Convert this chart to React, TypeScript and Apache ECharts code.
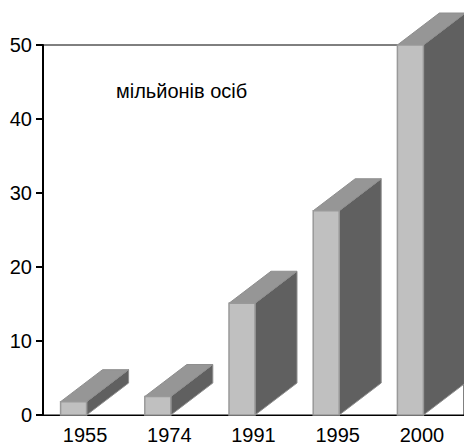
import React, { useEffect, useRef } from "react";
import * as echarts from "echarts";

const categories = ["1955", "1974", "1991", "1995", "2000"];
const values = [1.8, 2.5, 15.1, 27.6, 50];
const yTicks = { min: 0, max: 50, interval: 10 };
const tickValues = [0, 10, 20, 30, 40, 50];
const unitLabel = "мільйонів осіб";

const FONT = "'Liberation Sans', Arial, sans-serif";

export default function App() {
  const ref = useRef<HTMLDivElement>(null);
  useEffect(() => {
    if (!ref.current) return;
    const chart = echarts.init(ref.current, null, { renderer: "svg" });
    const dx = 42;
    const dy = 32;
    chart.setOption({
      animation: false,
      backgroundColor: "#ffffff",
      grid: {
        left: 43,
        top: 45,
        width: 425,
        height: 370,
        show: true,
        borderColor: "#000",
        borderWidth: 1,
        backgroundColor: "transparent",
      },
      xAxis: {
        type: "category",
        data: categories,
        axisLine: { lineStyle: { color: "#000", width: 1 } },
        axisTick: { show: false },
        axisLabel: { color: "#000", fontSize: 20, fontFamily: FONT, margin: 10 },
      },
      yAxis: {
        type: "value",
        min: yTicks.min,
        max: yTicks.max,
        interval: yTicks.interval,
        splitLine: { show: false },
        axisLine: { show: true, lineStyle: { color: "#000", width: 2 } },
        axisTick: { show: true, inside: false, length: 7, lineStyle: { color: "#000", width: 2 } },
        axisLabel: { color: "#000", fontSize: 20, fontFamily: FONT, margin: 11 },
      },
      graphic: [
        {
          type: "text",
          left: 116,
          top: 81,
          style: { text: unitLabel, fontSize: 20, fontFamily: FONT, fill: "#000" },
        },
      ],
      series: [
        {
          type: "custom",
          clip: false,
          silent: true,
          data: tickValues.map((t) => [0, t]),
          renderItem: (params: any, api: any) => {
            const p = api.coord([0, api.value(1)]);
            const x = params.coordSys.x;
            return {
              type: "line",
              shape: { x1: x - 6, y1: p[1], x2: x, y2: p[1] },
              style: { stroke: "#000", lineWidth: 2 },
            };
          },
        },
        {
          type: "custom",
          clip: false,
          data: values.map((v, i) => [i, v]),
          renderItem: (params: any, api: any) => {
            const i = api.value(0);
            const v = api.value(1);
            const base = api.coord([i, 0]);
            const top = api.coord([i, v]);
            const x0 = base[0] - 24.5;
            const x1 = base[0] + 1.5;
            const yb = base[1];
            const yt = top[1];
            const stroke = "#8e8e8e";
            return {
              type: "group",
              children: [
                {
                  type: "polygon",
                  shape: {
                    points: [
                      [x1, yt],
                      [x1 + dx, yt - dy],
                      [x1 + dx, yb - dy],
                      [x1, yb],
                    ],
                  },
                  style: { fill: "#606060", stroke, lineWidth: 1 },
                },
                {
                  type: "polygon",
                  shape: {
                    points: [
                      [x0, yt],
                      [x0 + dx, yt - dy],
                      [x1 + dx, yt - dy],
                      [x1, yt],
                    ],
                  },
                  style: { fill: "#969696", stroke, lineWidth: 1 },
                },
                {
                  type: "rect",
                  shape: { x: x0, y: yt, width: x1 - x0, height: yb - yt },
                  style: { fill: "#c0c0c0", stroke: "#999999", lineWidth: 1.5 },
                },
              ],
            };
          },
        },
      ],
    });
    return () => chart.dispose();
  }, []);
  return (
    <div
      ref={ref}
      style={{ position: "fixed", left: 0, top: 0, width: 464, height: 448 }}
    />
  );
}
